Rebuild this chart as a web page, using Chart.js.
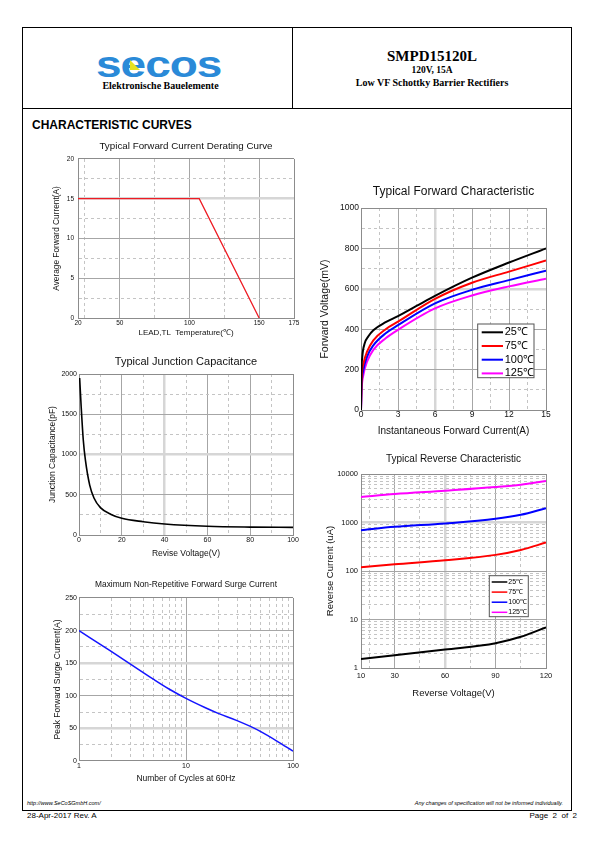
<!DOCTYPE html>
<html>
<head>
<meta charset="utf-8">
<script src="https://cdn.jsdelivr.net/npm/chart.js@4.4.1/dist/chart.umd.min.js"></script>
<style>
  html, body { margin: 0; padding: 0; background: #fff; overflow: hidden; }
  #page { position: relative; width: 595px; height: 842px; font-family: "Liberation Sans", Arial, sans-serif; }
  .abs { position: absolute; white-space: nowrap; }
  .serif { font-family: "Liberation Serif", "Times New Roman", serif; font-weight: bold; }
  canvas { position: absolute; }
</style>
</head>
<body>
<div id="page">
  <div class="abs" style="left:22px;top:27px;width:548px;height:782px;border:1.5px solid #000;"></div>
  <div class="abs" style="left:22px;top:107.5px;width:550px;border-top:1.5px solid #000;"></div>
  <div class="abs" style="left:291.5px;top:27px;height:81px;border-left:1.5px solid #000;"></div>

  <div class="abs" style="left:96px;top:38px;font:bold 46px 'Liberation Sans';color:#2a8ad8;letter-spacing:-1px;line-height:46px;transform:scaleY(0.8);transform-origin:0 40px;">secos</div>
  <div class="abs" style="left:130px;top:60px;width:10px;height:10px;background:#e6e21e;clip-path:polygon(0 0,100% 100%,0 100%);"></div>
  <div class="abs serif" style="left:97px;top:80px;width:127px;text-align:center;font-size:10px;">Elektronische Bauelemente</div>

  <div class="abs serif" style="left:292px;top:48px;width:280px;text-align:center;font-size:15px;">SMPD15120L</div>
  <div class="abs serif" style="left:292px;top:65px;width:280px;text-align:center;font-size:9.5px;">120V, 15A</div>
  <div class="abs serif" style="left:292px;top:77px;width:280px;text-align:center;font-size:10px;">Low VF Schottky Barrier Rectifiers</div>

  <div class="abs" style="left:32px;top:118px;font-weight:bold;font-size:12px;">CHARACTERISTIC CURVES</div>

  <div class="abs" style="left:27px;top:800px;font-style:italic;font-size:5.5px;">http://www.SeCoSGmbH.com/</div>
  <div class="abs" style="right:32px;top:800px;font-style:italic;font-size:5.5px;">Any changes of specification will not be informed individually.</div>
  <div class="abs" style="left:27px;top:811px;font-size:8px;">28-Apr-2017 Rev. A</div>
  <div class="abs" style="right:18px;top:811px;font-size:8px;">Page&nbsp; 2&nbsp; of&nbsp; 2</div>

  <canvas id="derating" width="264" height="202" style="left:40px;top:140px;"></canvas>
  <canvas id="capacitance" width="263" height="207" style="left:40px;top:355px;"></canvas>
  <canvas id="surge" width="263" height="210" style="left:40px;top:580px;"></canvas>
  <canvas id="forward" width="243" height="258" style="left:315px;top:184px;"></canvas>
  <canvas id="reverse" width="238" height="250" style="left:320px;top:453px;"></canvas>
</div>

<script>
// derating curve
let deratingTemp = [20, 107, 150];
let deratingCurrent = [15, 15, 0];

// junction capacitance
let capVoltage = [0.3, 1, 2, 3, 5, 7, 10, 15, 20, 30, 40, 60, 80, 100];
let capValue = [1950, 1600, 1180, 930, 620, 460, 340, 255, 207, 165, 137, 108, 98, 95];

// surge current
let surgeCycles = [1, 2, 3, 5, 7, 10, 15, 20, 30, 40, 50, 70, 100];
let surgeCurrent = [200, 168, 149, 125, 110, 96, 82, 73, 62, 53, 45, 31, 15];

// forward characteristic
let fwdLabels = ['25℃', '75℃', '100℃', '125℃'];
let fwdColors = ['#000000', '#ff0000', '#0000ff', '#ff00ff'];
let fwdCurrent = [
  [0, 0.02, 0.1, 0.3, 0.6, 1, 2, 3, 4.5, 6, 9, 12, 15],
  [0, 0.05, 0.2, 0.5, 1, 2, 3, 6, 9, 12, 15],
  [0, 0.05, 0.2, 0.5, 1, 2, 3, 6, 9, 12, 15],
  [0, 0.05, 0.2, 0.5, 1, 2, 3, 6, 9, 12, 15]
];
let fwdVoltage = [
  [0, 150, 260, 330, 365, 395, 435, 465, 515, 565, 655, 730, 800],
  [0, 150, 230, 290, 345, 400, 437, 550, 630, 685, 740],
  [0, 120, 200, 265, 320, 380, 420, 528, 595, 643, 690],
  [0, 100, 175, 240, 298, 355, 397, 503, 567, 612, 650]
];

// reverse characteristic
let revVoltage = [10, 30, 60, 90, 105, 120];
let revCurrent = [
  [1.54, 1.83, 2.4, 3.24, 4.4, 6.9],
  [119, 137, 166, 215, 272, 386],
  [694, 813, 955, 1190, 1442, 1980],
  [3342, 3855, 4520, 5380, 6015, 7170]
];

// tick / grid values
let derX = [20, 25, 50, 75, 100, 125, 150, 175];
let derXLabels = [20, 50, 100, 150, 175];
let derY = [0, 2.5, 5, 7.5, 10, 12.5, 15, 17.5, 20];
let derYLabels = [0, 5, 10, 15, 20];

let capX = [0, 10, 20, 30, 40, 50, 60, 70, 80, 90, 100];
let capXLabels = [0, 20, 40, 60, 80, 100];
let capY = [0, 250, 500, 750, 1000, 1250, 1500, 1750, 2000];
let capYLabels = [0, 500, 1000, 1500, 2000];

let surX = [1, 2, 3, 4, 5, 6, 7, 8, 9, 10, 20, 30, 40, 50, 60, 70, 80, 90, 100];
let surXLabels = [1, 10, 100];
let surY = [0, 25, 50, 75, 100, 125, 150, 175, 200, 225, 250];
let surYLabels = [0, 50, 100, 150, 200, 250];

let fwdX = [0, 1.5, 3, 4.5, 6, 7.5, 9, 10.5, 12, 13.5, 15];
let fwdXLabels = [0, 3, 6, 9, 12, 15];
let fwdY = [0, 100, 200, 300, 400, 500, 600, 700, 800, 900, 1000];
let fwdYLabels = [0, 200, 400, 600, 800, 1000];

let revX = [10, 15, 30, 45, 60, 75, 90, 105, 120];
let revXLabels = [10, 30, 60, 90, 120];
let revY = [];
[1, 10, 100, 1000].forEach(function (d) {
  for (let k = 1; k < 10; k++) revY.push(d * k);
});
revY.push(10000);
let revYLabels = [1, 10, 100, 1000, 10000];

let fontFamily = '"Liberation Sans", Arial, sans-serif';
Chart.defaults.font.family = fontFamily;
Chart.defaults.color = '#000';

function near(a, b) {
  return Math.abs(a - b) <= 1e-6 * Math.max(1, Math.abs(b));
}
function inList(v, list) {
  return list.some(function (x) { return near(v, x); });
}

// o: ticks, labels, solid, thick, size, pad, fs, title, tfs, tpad, isX, type
function makeAxis(o) {
  let lo = o.ticks[0];
  let hi = o.ticks[o.ticks.length - 1];
  function kind(ctx) {
    if (!ctx.tick) return 'edge';
    let v = ctx.tick.value;
    if (near(v, lo) || near(v, hi)) return 'edge';
    if (inList(v, o.thick || [])) return 'thick';
    if (inList(v, o.solid)) return 'solid';
    return 'dash';
  }
  return {
    type: o.type || 'linear',
    position: o.isX ? 'bottom' : 'left',
    min: lo,
    max: hi,
    afterBuildTicks: function (s) {
      s.ticks = o.ticks.map(function (v) { return { value: v }; });
    },
    afterFit: function (s) {
      if (o.isX) s.height = o.size; else s.width = o.size;
    },
    ticks: {
      autoSkip: false,
      maxRotation: 0,
      minRotation: 0,
      padding: o.pad,
      color: '#111',
      font: { size: o.fs },
      callback: function (v) { return inList(v, o.labels) ? String(v) : ''; }
    },
    grid: {
      drawTicks: false,
      color: function (ctx) {
        let k = kind(ctx);
        if (k === 'edge') return '#8c8c8c';
        if (k === 'thick') return '#d6d6d6';
        if (k === 'solid') return '#a6a6a6';
        return '#c4c4c4';
      },
      lineWidth: function (ctx) {
        return kind(ctx) === 'thick' ? 2.5 : 1;
      }
    },
    border: {
      display: true,
      color: '#8c8c8c',
      width: 1,
      dash: function (ctx) {
        return kind(ctx) === 'dash' ? [3, 3] : [];
      }
    },
    title: {
      display: true,
      text: o.title,
      color: '#111',
      font: { size: o.tfs },
      padding: o.isX ? { top: 0, bottom: o.tpad } : { top: o.tpad, bottom: 0 }
    }
  };
}

let boxLegend = {
  id: 'boxLegend',
  afterDatasetsDraw: function (chart, args, opts) {
    if (!opts || !opts.show) return;
    let ctx = chart.ctx;
    let a = chart.chartArea;
    let x = a.left + opts.x;
    let y = a.top + opts.y;
    ctx.save();
    ctx.fillStyle = '#fff';
    ctx.fillRect(x, y, opts.w, opts.h);
    ctx.strokeStyle = '#555';
    ctx.lineWidth = 1;
    ctx.strokeRect(x, y, opts.w, opts.h);
    ctx.font = opts.size + 'px ' + fontFamily;
    ctx.textBaseline = 'middle';
    ctx.textAlign = 'left';
    chart.data.datasets.forEach(function (ds, i) {
      let ry = y + opts.first + i * opts.row;
      ctx.strokeStyle = ds.borderColor;
      ctx.lineWidth = opts.lw;
      ctx.beginPath();
      ctx.moveTo(x + opts.lineX, ry);
      ctx.lineTo(x + opts.lineX + opts.lineLen, ry);
      ctx.stroke();
      ctx.fillStyle = '#000';
      ctx.fillText(ds.label, x + opts.textX, ry);
    });
    ctx.restore();
  }
};

function points(xs, ys) {
  return xs.map(function (v, i) { return { x: v, y: ys[i] }; });
}

function lineSet(label, xs, ys, color, width, straight) {
  return {
    label: label,
    data: points(xs, ys),
    showLine: true,
    borderColor: color,
    backgroundColor: color,
    borderWidth: width,
    pointRadius: 0,
    tension: 0,
    cubicInterpolationMode: straight ? 'default' : 'monotone',
    fill: false
  };
}

function makeChart(id, datasets, title, xAxis, yAxis, rightPad, legendOpts) {
  return new Chart(document.getElementById(id), {
    type: 'scatter',
    data: { datasets: datasets },
    options: {
      responsive: false,
      animation: false,
      events: [],
      layout: { padding: { left: 0, right: rightPad, top: 0, bottom: 0 } },
      scales: { x: makeAxis(xAxis), y: makeAxis(yAxis) },
      plugins: {
        legend: { display: false },
        tooltip: { enabled: false },
        title: {
          display: true,
          fullSize: false,
          text: title.text,
          color: '#111',
          font: { size: title.fs, weight: 'normal' },
          padding: { top: 0, bottom: title.pad }
        },
        boxLegend: legendOpts || { show: false }
      }
    },
    plugins: [boxLegend]
  });
}

makeChart('derating',
  [lineSet('Derating', deratingTemp, deratingCurrent, '#ee1c24', 1.3, true)],
  { text: 'Typical Forward Current Derating Curve', fs: 9.8, pad: 7.2 },
  { isX: true, ticks: derX, labels: derXLabels, solid: [50, 100, 150], size: 24, pad: 1, fs: 6.5,
    title: 'LEAD,TL  Temperature(℃)', tfs: 8, tpad: 4.2 },
  { ticks: derY, labels: derYLabels, solid: [5, 10, 20], thick: [15], size: 38, pad: 4, fs: 6.5,
    title: 'Average Forward Current(A)', tfs: 8.3, tpad: 12 },
  10);

makeChart('capacitance',
  [lineSet('Capacitance', capVoltage, capValue, '#000000', 1.6)],
  { text: 'Typical Junction Capacitance', fs: 11, pad: 5.8 },
  { isX: true, ticks: capX, labels: capXLabels, solid: [20, 60, 80], thick: [40], size: 27, pad: 1, fs: 7,
    title: 'Revise Voltage(V)', tfs: 8.5, tpad: 2.9 },
  { ticks: capY, labels: capYLabels, solid: [500, 1500], thick: [1000], size: 39, pad: 2, fs: 7,
    title: 'Junction Capacitance(pF)', tfs: 8.5, tpad: 7.9 },
  10);

makeChart('surge',
  [lineSet('Surge', surgeCycles, surgeCurrent, '#1414ff', 1.5)],
  { text: 'Maximum Non-Repetitive Forward Surge Current', fs: 8.4, pad: 7.9 },
  { isX: true, type: 'logarithmic', ticks: surX, labels: surXLabels, solid: [10], size: 29, pad: 1, fs: 7,
    title: 'Number of Cycles at 60Hz', tfs: 8.5, tpad: 5.9 },
  { ticks: surY, labels: surYLabels, solid: [100, 200], thick: [50, 150], size: 39, pad: 2, fs: 7,
    title: 'Peak Forward Surge Current(A)', tfs: 8.5, tpad: 12.6 },
  10);

let fwdSets = [];
for (let i = 0; i < fwdLabels.length; i++) {
  fwdSets.push(lineSet(fwdLabels[i], fwdCurrent[i], fwdVoltage[i], fwdColors[i], 2));
}
makeChart('forward', fwdSets,
  { text: 'Typical Forward Characteristic', fs: 12, pad: 9.6 },
  { isX: true, ticks: fwdX, labels: fwdXLabels, solid: [3, 9, 12], thick: [6], size: 32, pad: 0, fs: 8.5,
    title: 'Instantaneous Forward Current(A)', tfs: 10, tpad: 4.3 },
  { ticks: fwdY, labels: fwdYLabels, solid: [200, 400, 800], thick: [600], size: 46, pad: 2, fs: 8.5,
    title: 'Forward Voltage(mV)', tfs: 10.5, tpad: 3.7 },
  12,
  { show: true, x: 116.7, y: 116, w: 56.3, h: 53.7, lineX: 4, lineLen: 21.3, textX: 27,
    first: 8.3, row: 13.7, size: 11, lw: 2 });

let revSets = [];
for (let i = 0; i < fwdLabels.length; i++) {
  revSets.push(lineSet(fwdLabels[i], revVoltage, revCurrent[i], fwdColors[i], 2));
}
makeChart('reverse', revSets,
  { text: 'Typical Reverse Characteristic', fs: 10, pad: 9 },
  { isX: true, ticks: revX, labels: revXLabels, solid: [30, 90], thick: [60], size: 35, pad: 3, fs: 7.5,
    title: 'Reverse Voltage(V)', tfs: 9.5, tpad: 4 },
  { type: 'logarithmic', ticks: revY, labels: revYLabels, solid: [10, 100], thick: [1000], size: 41, pad: 3, fs: 7.5,
    title: 'Reverse Current (uA)', tfs: 9.5, tpad: 5 },
  12,
  { show: true, x: 128.3, y: 101.7, w: 39, h: 41, lineX: 2.4, lineLen: 15.6, textX: 19,
    first: 6.3, row: 10.1, size: 7, lw: 1.5 });
</script>
</body>
</html>
